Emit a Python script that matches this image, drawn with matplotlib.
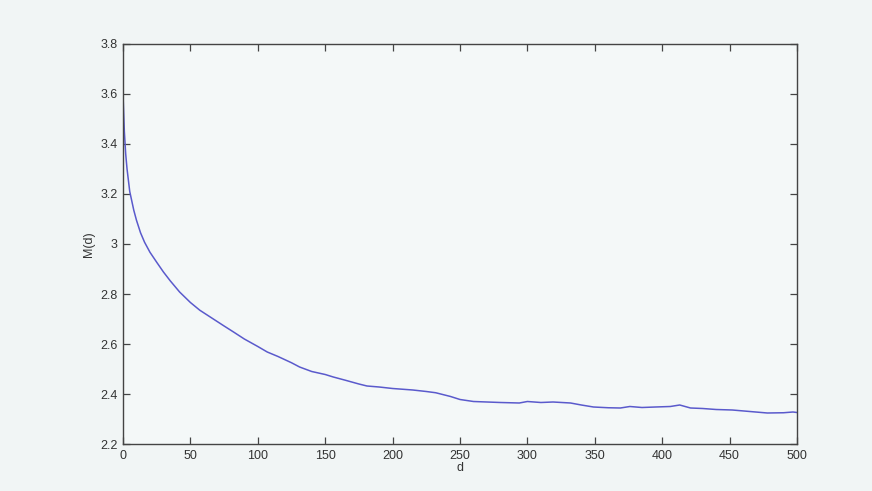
import matplotlib
matplotlib.use("Agg")
import matplotlib.pyplot as plt

d_values = [0, 1, 2, 3, 5, 8, 10, 13, 16, 20, 25, 30, 35, 42, 50, 57, 67, 75, 82,
            90, 100, 107, 115, 125, 131, 140, 150, 156, 165, 175, 181, 190, 200,
            205, 215, 225, 232, 243, 250, 260, 270, 280, 294, 300, 310, 319, 332,
            340, 349, 360, 369, 376, 385, 395, 406, 413, 421, 430, 440, 452, 465,
            478, 490, 497, 500]
m_values = [3.60, 3.45, 3.36, 3.30, 3.21, 3.135, 3.095, 3.045, 3.007, 2.967, 2.927, 2.888,
            2.853, 2.808, 2.766, 2.735, 2.70, 2.672, 2.648, 2.62, 2.59, 2.568, 2.55, 2.525,
            2.508, 2.49, 2.478, 2.468, 2.455, 2.44, 2.432, 2.428, 2.422, 2.42, 2.416,
            2.41, 2.405, 2.39, 2.378, 2.37, 2.368, 2.366, 2.364, 2.37, 2.366, 2.368,
            2.364, 2.356, 2.348, 2.345, 2.344, 2.35, 2.346, 2.348, 2.35, 2.356, 2.344,
            2.342, 2.338, 2.336, 2.33, 2.324, 2.325, 2.328, 2.326]

x_ticks = [0, 50, 100, 150, 200, 250, 300, 350, 400, 450, 500]
y_ticks = [2.2, 2.4, 2.6, 2.8, 3.0, 3.2, 3.4, 3.6, 3.8]
y_tick_labels = ["2.2", "2.4", "2.6", "2.8", "3", "3.2", "3.4", "3.6", "3.8"]

plt.rcParams['font.family'] = ['Liberation Sans', 'DejaVu Sans']

bg = "#f1f5f5"
fig = plt.figure(figsize=(8.72, 4.91), dpi=100, facecolor=bg)
ax = fig.add_axes([123/872, 47/491, 674/872, 400/491], facecolor="#f4f8f8")

ax.plot(d_values, m_values, color="#5a5acc", linewidth=1.1)

ax.set_xlim(0, 500)
ax.set_ylim(2.2, 3.8)
ax.set_xticks(x_ticks)
ax.set_yticks(y_ticks)
ax.set_yticklabels(y_tick_labels)
ax.tick_params(direction="in", top=True, right=True, length=5, width=0.9,
               color="#444444", labelsize=9, labelcolor="#333333", pad=4)
for s in ax.spines.values():
    s.set_color("#444444")
    s.set_linewidth(1.0)

ax.set_xlabel("d", fontsize=9, color="#333333", labelpad=0)
ax.set_ylabel("M(d)", fontsize=9, color="#333333", labelpad=4)

fig.savefig("out.png", dpi=100, facecolor=bg)
